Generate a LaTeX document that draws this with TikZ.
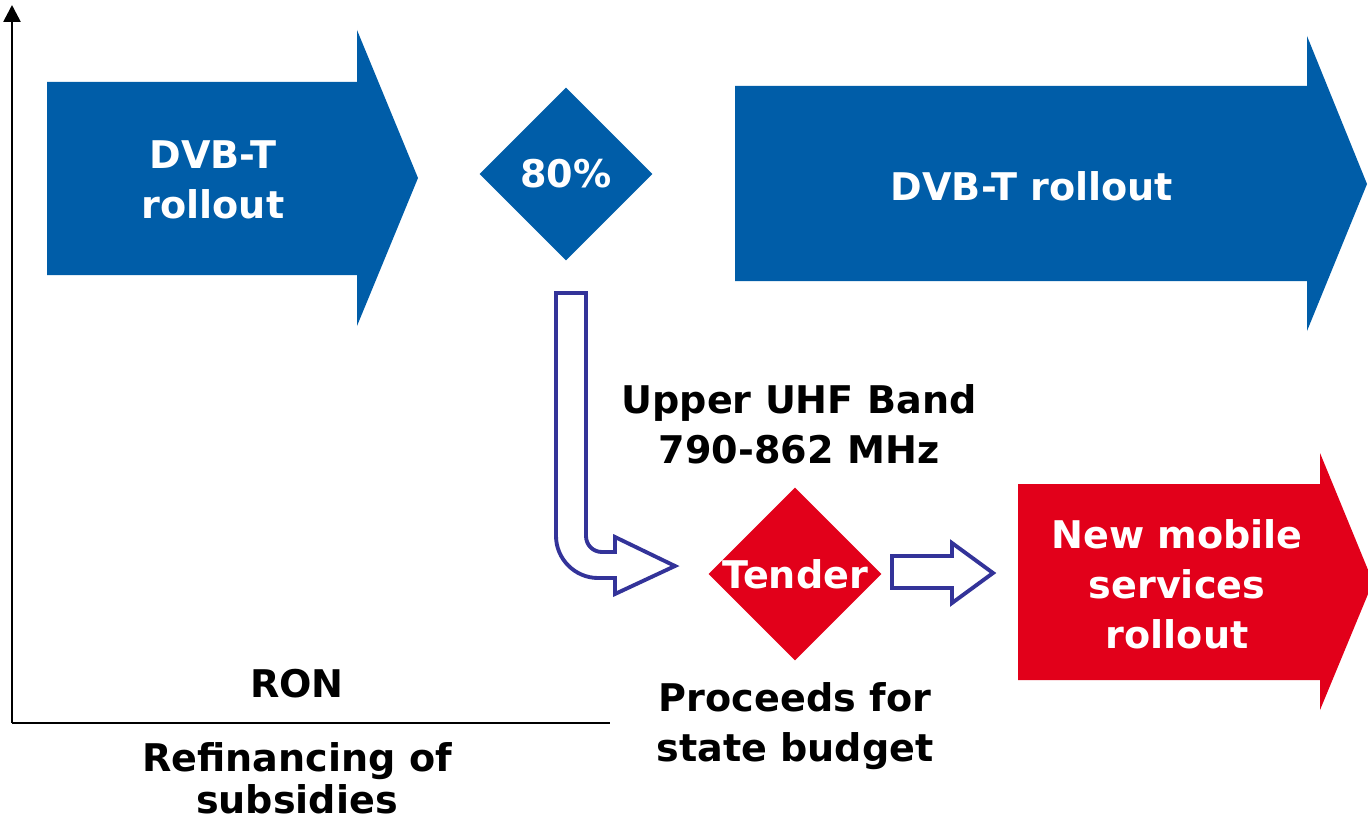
\documentclass[tikz,border=0pt]{standalone}
\usepackage{fontspec}
\setmainfont{DejaVu Sans}
\usepackage{tikz}
\usetikzlibrary{positioning,arrows.meta,shapes.geometric}
\definecolor{dvbblue}{RGB}{0,93,168}
\definecolor{mobred}{RGB}{226,0,26}
\definecolor{flowblue}{RGB}{51,51,153}
\tikzset{
    bigtext/.style={
        font=\bfseries\fontsize{21.7}{28.5}\selectfont,
        align=center,
        inner sep=0pt
    },
    tighttext/.style={
        bigtext,
        font=\bfseries\fontsize{21.7}{24}\selectfont
    },
    whitetext/.style={
        bigtext,
        text=white
    },
    blackdiamond/.style={
        diamond,
        inner sep=0pt,
        minimum width=3.46cm,
        minimum height=3.46cm
    },
    hollow/.style={
        draw=flowblue,
        line width=2.2pt,
        line join=miter,
        fill=white
    },
    axis/.style={line width=1.5pt}
}

\begin{document}
\begin{tikzpicture}[x=0.02cm,y=-0.02cm]
\useasboundingbox (0,0) rectangle (1368,821);

% Axes
\coordinate (origin) at (12,723);
\coordinate (ytop) at (12,5);
\coordinate (xend) at (610,723);
\draw[axis,-{Triangle[width=0.34cm,length=0.34cm]}] (origin) -- (ytop);
\draw[axis] (origin) -- (xend);

% Blue rollout arrows
\fill[dvbblue] (47,82) -- (357,82) -- (357,30) -- (418,178)
  -- (357,326) -- (357,275) -- (47,275) -- cycle;
\node[whitetext] (rollA) at (213,180) {DVB-T\\rollout};

\fill[dvbblue] (735,86) -- (1307,86) -- (1307,36) -- (1367,184)
  -- (1307,331) -- (1307,281) -- (735,281) -- cycle;
\node[whitetext] (rollB) at (1032,186) {DVB-T rollout};

% Red rollout arrow
\fill[mobred] (1018,484) -- (1320,484) -- (1320,453) -- (1373,582)
  -- (1320,710) -- (1320,680) -- (1018,680) -- cycle;
\node[whitetext] (mobile) at (1177,584) {New mobile\\services\\rollout};

% Diamonds
\node[blackdiamond,fill=dvbblue] (share) at (566,174) {};
\node[whitetext] at (share) {80\%};

\node[blackdiamond,fill=mobred] (tender) at (795,574) {};
\node[whitetext] at (tender) {Tender};

% Hollow arrows
\draw[hollow] (556,293) -- (586,293) -- (586,536)
  .. controls (586,545) and (593,552) .. (602,552)
  -- (615,552) -- (615,537) -- (675,566) -- (615,594) -- (615,578)
  -- (598,578) .. controls (575,578) and (556,559) .. (556,536) -- cycle;

\draw[hollow] (892,556) -- (952,556) -- (952,543) -- (993,573)
  -- (952,603) -- (952,588) -- (892,588) -- cycle;

% Labels
\node[bigtext] (band) at (799,424) {Upper UHF Band\\790-862 MHz};
\node[bigtext] (proceeds) at (795,726) {Proceeds for\\state budget};
\node[bigtext] (ron) at (297,684) {RON};
\node[tighttext] (refin) at (297,778) {Refinancing of\\subsidies};

\end{tikzpicture}
\end{document}
